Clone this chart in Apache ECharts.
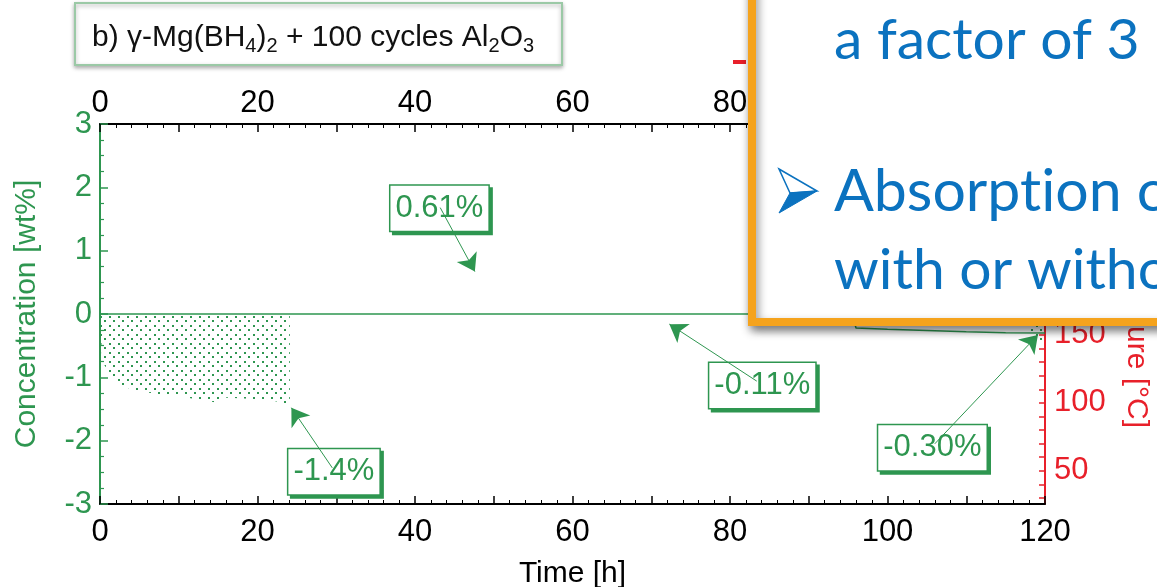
<!DOCTYPE html>
<html>
<head>
<meta charset="utf-8">
<script src="https://cdn.jsdelivr.net/npm/echarts@6/dist/echarts.min.js"></script>
<style>
  html, body { margin: 0; padding: 0; background: #fff; }
  #chart { width: 1157px; height: 587px; }
</style>
</head>
<body>
<div id="chart"></div>
<script>
const GREEN = '#2e9650', RED = '#e8202a', ORANGE = '#f5a31d', BLUE = '#0b72bf'
const FONT = '"Liberation Sans", Arial, sans-serif'

// concentration trace (wt%) vs time (h)
const timeMain = [0, 24.1, 50, 95.5, 96, 100, 105, 110, 115, 120]
const concMain = [0, 0, 0, 0, -0.22, -0.24, -0.26, -0.28, -0.295, -0.30]

// dotted desorption region, first 24 h
const timeFill = [0, 0.3, 1.3, 2.1, 3.8, 5.5, 7.2, 10.5, 13.5, 14.9, 15.6, 19, 21.6, 24.1]
const concFill = [0, -0.76, -0.94, -1.10, -1.18, -1.23, -1.26, -1.31, -1.37, -1.40, -1.32, -1.34, -1.36, -1.42]

// small dotted tail at the very end
const timeFillEnd = [118.2, 119.2, 120]
const concFillEnd = [-0.30, -0.42, -0.46]

// annotation boxes + arrows
const noteText = ['0.61%', '-0.11%', '-1.4%', '-0.30%']
const noteX = [43.1, 84.1, 29.7, 105.7]
const noteY = [1.67, -1.13, -2.49, -2.11]
const arrowFromX = [43.2, 83.4, 29.5, 106.0]
const arrowFromY = [1.68, -1.06, -2.43, -2.05]
const arrowToX = [47.6, 72.3, 24.3, 119.1]
const arrowToY = [0.67, -0.16, -1.48, -0.33]

const timeRange = [0, 120]
const concRange = [-3, 3]
const tempRange = [30, 300]

const zip = (xs, ys) => xs.map((x, i) => [x, ys[i]])

// dot pattern like the original hatch
const pat = document.createElement('canvas')
pat.width = 9; pat.height = 9
const pc = pat.getContext('2d')
pc.fillStyle = GREEN
pc.fillRect(1, 1, 2, 2)
pc.fillRect(5, 5, 2, 2)

const chart = echarts.init(document.getElementById('chart'))

const tickLabel = margin => ({
  formatter: v => (v % 20 === 0 ? String(v) : ''),
  fontSize: 31, fontFamily: FONT, color: '#000', margin: margin
})

const timeAxis = (pos, extra) => Object.assign({
  type: 'value', gridIndex: 0, position: pos,
  min: timeRange[0], max: timeRange[1], interval: 10,
  axisLine: { onZero: false, lineStyle: { color: '#000', width: 2 } },
  axisTick: { inside: true, length: 8, lineStyle: { color: '#000', width: 1.5 } },
  minorTick: { show: true, splitNumber: 5, length: 4, lineStyle: { color: '#000', width: 1 } },
  splitLine: { show: false }
}, extra)

const option = {
  animation: false,
  title: {
    text: 'b) γ-Mg(BH{s|4}){s|2} + 100 cycles Al{s|2}O{s|3}',
    left: 75, top: 3,
    padding: [17, 28, 9, 17],
    backgroundColor: '#fff',
    borderColor: '#9bc9a6', borderWidth: 2,
    shadowBlur: 4, shadowColor: 'rgba(0,0,0,0.3)', shadowOffsetY: 2,
    textStyle: {
      fontSize: 30, fontFamily: FONT, fontWeight: 'normal', color: '#111', lineHeight: 36,
      rich: { s: { fontSize: 20, fontFamily: FONT, color: '#111', lineHeight: 20, verticalAlign: 'bottom' } }
    }
  },
  legend: {
    data: [{ name: 'Temperature', icon: 'rect' }],
    left: 728, top: 47, itemWidth: 13, itemHeight: 4,
    textStyle: { fontSize: 20, color: RED }
  },
  grid: [
    { left: 100, right: 112, top: 124, bottom: 83, outerBoundsMode: 'none' },
    { left: 100, right: 112, top: 131, bottom: 89, outerBoundsMode: 'none' }
  ],
  xAxis: [
    timeAxis('bottom', {
      axisLabel: tickLabel(13),
      name: 'Time [h]', nameLocation: 'middle', nameGap: 55,
      nameTextStyle: { fontSize: 30, fontFamily: FONT, color: '#000' }
    }),
    timeAxis('top', { axisLabel: tickLabel(5) }),
    { type: 'value', gridIndex: 1, min: timeRange[0], max: timeRange[1], show: false, axisLine: { onZero: false } }
  ],
  yAxis: [
    {
      type: 'value', gridIndex: 0, position: 'left',
      min: concRange[0], max: concRange[1], interval: 1,
      axisLine: { onZero: false, lineStyle: { color: GREEN, width: 2 } },
      axisTick: { inside: true, length: 8, lineStyle: { color: GREEN, width: 1.5 } },
      minorTick: { show: true, splitNumber: 4, length: 4, lineStyle: { color: GREEN, width: 1.2 } },
      splitLine: { show: false },
      axisLabel: { fontSize: 31, fontFamily: FONT, color: GREEN, margin: 8 },
      name: 'Concentration [wt%]', nameLocation: 'middle', nameGap: 58,
      nameTextStyle: { fontSize: 30, fontFamily: FONT, color: GREEN }
    },
    {
      type: 'value', gridIndex: 0, position: 'right', min: 0, max: 1,
      axisLine: { show: true, onZero: false, lineStyle: { color: RED, width: 2 } },
      axisTick: { show: false }, axisLabel: { show: false }, splitLine: { show: false }
    },
    {
      type: 'value', gridIndex: 1, position: 'right',
      min: tempRange[0], max: tempRange[1], interval: 10,
      axisLine: { show: false, onZero: false },
      axisTick: { show: true, inside: true, length: 6, lineStyle: { color: RED, width: 1.5 } },
      splitLine: { show: false },
      axisLabel: {
        formatter: v => (v % 50 === 0 ? String(v) : ''),
        fontSize: 31, fontFamily: FONT, color: RED, margin: 9
      },
      name: 'Temperature [°C]', nameLocation: 'middle', nameRotate: -90, nameGap: 76,
      nameTextStyle: { fontSize: 30, fontFamily: FONT, color: RED }
    }
  ],
  series: [
    {
      name: 'fill', type: 'line', xAxisIndex: 0, yAxisIndex: 0, z: 1,
      data: zip(timeFill, concFill), showSymbol: false, silent: true,
      lineStyle: { width: 0 },
      areaStyle: { color: { image: pat, repeat: 'repeat' }, opacity: 1 }
    },
    {
      name: 'fillEnd', type: 'line', xAxisIndex: 0, yAxisIndex: 0, z: 1,
      data: zip(timeFillEnd, concFillEnd), showSymbol: false, silent: true,
      lineStyle: { width: 0 },
      areaStyle: { color: { image: pat, repeat: 'repeat' }, opacity: 1 }
    },
    {
      name: 'Concentration', type: 'line', xAxisIndex: 0, yAxisIndex: 0, z: 3,
      data: zip(timeMain, concMain), showSymbol: false,
      lineStyle: { color: GREEN, width: 1.5 }
    },
    {
      name: 'notes', type: 'scatter', xAxisIndex: 0, yAxisIndex: 0, z: 4,
      symbolSize: 1, itemStyle: { color: 'rgba(0,0,0,0)', opacity: 1 },
      data: noteText.map((t, i) => ({ name: t, value: [noteX[i], noteY[i]] })),
      label: {
        show: true, position: 'inside', formatter: p => p.name, opacity: 1,
        fontSize: 31, fontFamily: FONT, color: GREEN,
        backgroundColor: '#fff', borderColor: GREEN, borderWidth: 1.5,
        padding: [8, 5, 6, 5],
        shadowColor: GREEN, shadowOffsetX: 3, shadowOffsetY: 3, shadowBlur: 0
      }
    },
    {
      name: 'arrows', type: 'line', xAxisIndex: 0, yAxisIndex: 0, z: 6, data: [],
      markLine: {
        silent: true, symbol: ['none', 'arrow'], symbolSize: 17,
        itemStyle: { color: GREEN },
        lineStyle: { color: GREEN, width: 1, type: 'solid' },
        label: { show: false },
        data: noteText.map((t, i) => [
          { coord: [arrowFromX[i], arrowFromY[i]] },
          { coord: [arrowToX[i], arrowToY[i]] }
        ])
      }
    },
    {
      name: 'Temperature', type: 'line', xAxisIndex: 2, yAxisIndex: 2, data: [],
      itemStyle: { color: RED }, lineStyle: { color: RED }
    }
  ],
  graphic: [
    {
      type: 'rect', z: 100,
      shape: { x: 752, y: -20, width: 460, height: 342 },
      style: { fill: '#fff', stroke: ORANGE, lineWidth: 8, shadowBlur: 10, shadowOffsetX: 2, shadowOffsetY: 5, shadowColor: 'rgba(0,0,0,0.45)' }
    },
    { type: 'text', z: 101, x: 834, y: 41, style: { text: 'a factor of 3', fontSize: 57, fontFamily: 'Lato', fill: BLUE, verticalAlign: 'middle' } },
    // bullet arrowhead: lit upper face + solid lower face
    { type: 'polygon', z: 101, shape: { points: [[779, 169], [817, 191], [790, 193]] }, style: { fill: '#fff', stroke: BLUE, lineWidth: 1.5 } },
    { type: 'polygon', z: 101, shape: { points: [[790, 193], [817, 191], [779, 213]] }, style: { fill: BLUE, stroke: BLUE, lineWidth: 1 } },
    { type: 'text', z: 101, x: 834, y: 192, style: { text: 'Absorpt\u200Cion capacity', fontSize: 59, fontFamily: 'Lato', fill: BLUE, verticalAlign: 'middle' } },
    { type: 'text', z: 101, x: 834, y: 271, style: { text: 'with or without', fontSize: 57, fontFamily: 'Lato', fill: BLUE, verticalAlign: 'middle' } }
  ]
}

chart.setOption(option)
</script>
</body>
</html>
